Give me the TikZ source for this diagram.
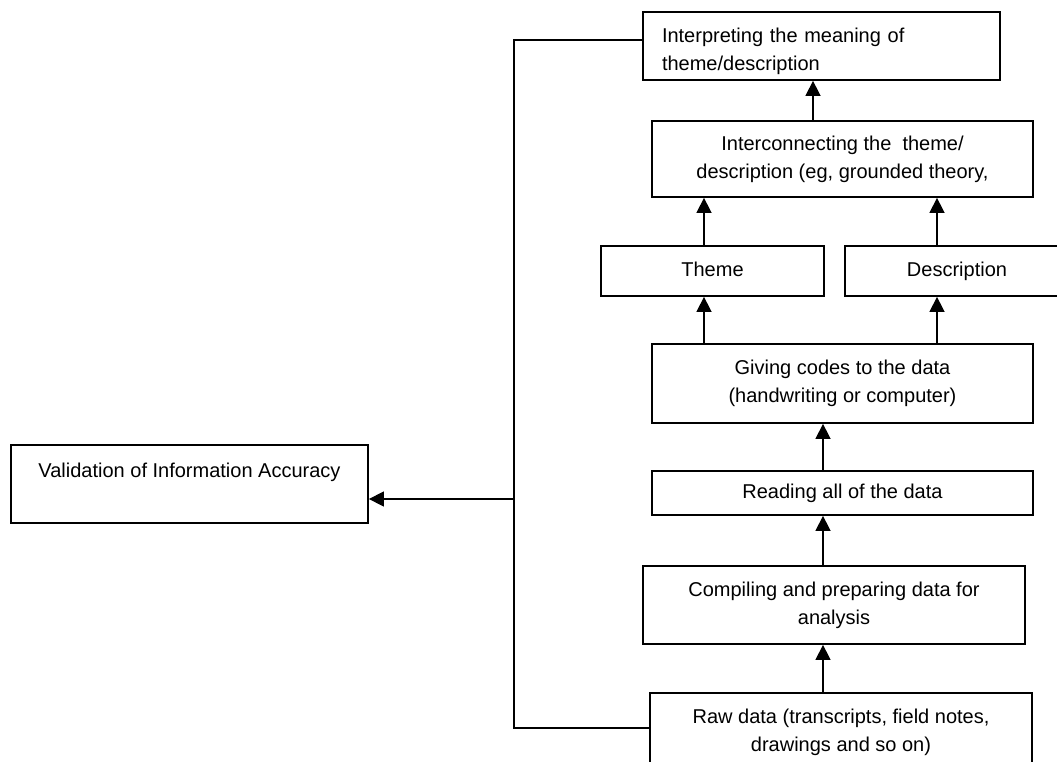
\documentclass[tikz,border=0pt]{standalone}
\usepackage{fontspec}
\setmainfont{Liberation Sans}
\usetikzlibrary{arrows.meta}
\begin{document}
\begin{tikzpicture}[x=1pt,y=-1pt,
 box/.style={draw, line width=1.8pt, rectangle, inner sep=0pt, align=center, font=\fontsize{20}{28}\selectfont},
 one/.style={text height=14.5pt, text depth=4pt},
 arr/.style={line width=1.5pt, -{Triangle[length=15pt,width=15pt]}},
 ln/.style={line width=1.5pt}]
\clip (0,0) rectangle (1057,762);
\fill[white] (0,0) rectangle (1057,762);
\node[box, minimum width=357pt, minimum height=68pt, align=left, text width=319pt] (interp) at (821.5,46) {\rule{0pt}{26pt}Interpreting the meaning of\\theme/description};
\node[box, minimum width=381pt, minimum height=76pt] (interc) at (842.5,159) {Interconnecting the\ \ theme/\\description (eg, grounded theory,};
\node[box, one, minimum width=223pt, minimum height=50pt] (theme) at (712.5,271) {Theme};
\node[box, one, minimum width=224pt, minimum height=50pt] (desc) at (957,271) {Description};
\node[box, minimum width=381pt, minimum height=79pt] (giving) at (842.5,383.5) {Giving codes to the data\\(handwriting or computer)};
\node[box, one, minimum width=381pt, minimum height=44pt] (reading) at (842.5,493) {Reading all of the data};
\node[box, minimum width=382pt, minimum height=78pt] (comp) at (834,605) {Compiling and preparing data for\\analysis};
\node[box, minimum width=382pt, minimum height=78pt] (raw) at (841,732) {Raw data (transcripts, field notes,\\drawings and so on)};
\node[box, minimum width=357pt, minimum height=78pt] (val) at (189.5,484) {Validation of Information Accuracy\\~};
\coordinate (top) at (514,40);
\coordinate (mid) at (514,499);
\coordinate (bot) at (514,728);
\draw[ln] (interp.west |- top) -- (top) -- (bot) -- (raw.west |- bot);
\draw[arr] (mid) -- (val.east |- mid);
\draw[arr] (813,0 |- interc.north) -- (813,0 |- interp.south);
\draw[arr] (704,0 |- theme.north) -- (704,0 |- interc.south);
\draw[arr] (937,0 |- desc.north) -- (937,0 |- interc.south);
\draw[arr] (704,0 |- giving.north) -- (704,0 |- theme.south);
\draw[arr] (937,0 |- giving.north) -- (937,0 |- desc.south);
\draw[arr] (823,0 |- reading.north) -- (823,0 |- giving.south);
\draw[arr] (823,0 |- comp.north) -- (823,0 |- reading.south);
\draw[arr] (823,0 |- raw.north) -- (823,0 |- comp.south);
\end{tikzpicture}
\end{document}
